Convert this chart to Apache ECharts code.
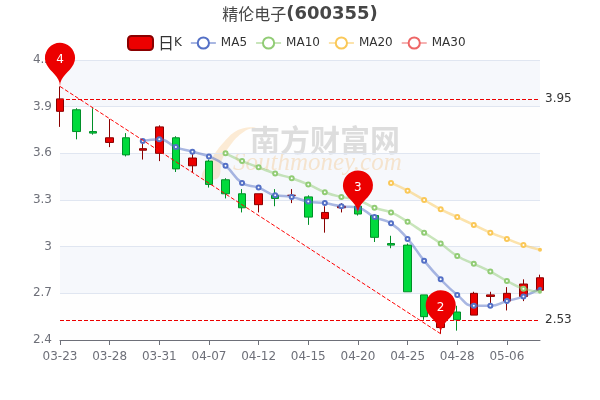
<!DOCTYPE html>
<html>
<head>
<meta charset="utf-8">
<style>html,body{margin:0;padding:0;background:#fff}#main{width:600px;height:400px}</style>
<script src="https://cdn.jsdelivr.net/npm/echarts@6/dist/echarts.min.js"></script>
</head>
<body>
<div id="main"></div>
<script>
const dates = ['03-23','03-24','03-25','03-28','03-29','03-30','03-31','04-01','04-06','04-07',
  '04-08','04-11','04-12','04-13','04-14','04-15','04-18','04-19','04-20','04-21',
  '04-22','04-25','04-26','04-27','04-28','04-29','05-05','05-06','05-09','05-10'];
// open, close, low, high
const kline = [
  [3.87,3.95,3.77,4.03],[3.88,3.74,3.69,3.89],[3.74,3.73,3.72,3.89],[3.67,3.70,3.64,3.82],
  [3.70,3.59,3.58,3.73],[3.62,3.63,3.56,3.69],[3.60,3.77,3.55,3.78],[3.70,3.50,3.48,3.71],
  [3.52,3.57,3.48,3.60],[3.55,3.40,3.38,3.56],[3.43,3.34,3.31,3.44],[3.34,3.25,3.22,3.37],
  [3.27,3.34,3.22,3.34],[3.33,3.31,3.26,3.37],[3.33,3.33,3.28,3.37],[3.32,3.19,3.14,3.33],
  [3.18,3.22,3.09,3.26],[3.25,3.26,3.22,3.28],[3.26,3.21,3.20,3.27],[3.20,3.06,3.03,3.21],
  [3.02,3.01,2.99,3.07],[3.01,2.71,2.71,3.02],[2.69,2.55,2.53,2.69],[2.48,2.60,2.44,2.62],
  [2.58,2.53,2.46,2.62],[2.56,2.70,2.56,2.71],[2.68,2.69,2.61,2.71],[2.65,2.70,2.59,2.74],
  [2.68,2.76,2.65,2.79],[2.72,2.80,2.71,2.82]
];
const ma5 = ['-','-','-','-','-',3.68,3.69,3.64,3.61,3.58,3.52,3.41,3.38,3.33,3.32,3.29,3.28,3.26,3.25,3.19,3.15,3.05,2.91,2.79,2.69,2.62,2.62,2.65,2.68,2.73];
const ma10 = ['-','-','-','-','-','-','-','-','-','-',3.60,3.55,3.51,3.47,3.44,3.40,3.35,3.32,3.30,3.25,3.22,3.16,3.09,3.02,2.94,2.89,2.84,2.78,2.73,2.71];
const ma20 = ['-','-','-','-','-','-','-','-','-','-','-','-','-','-','-','-','-','-','-','-',3.41,3.36,3.30,3.24,3.19,3.14,3.09,3.05,3.01,2.98];
const ma30 = dates.map(() => '-');
const yTop = 3.95, yBottom = 2.53;

const upColor = '#ec0000', upBorder = '#8A0000', downColor = '#00da3c', downBorder = '#008F28';
const labelColor = '#6E7079';

function maSeries(name, data, color) {
  return {name: name, type: 'line', data: data, smooth: true, color: color,
    // the last point sits on the grid edge and looks smaller
    symbolSize: function (v, p) { return p.dataIndex === dates.length - 1 ? 2 : 4; },
    lineStyle: {opacity: 0.5, width: 2.5}, itemStyle: {borderWidth: 2}};
}

let myChart = echarts.init(document.getElementById('main'));
let option = {
  animation: false,
  textStyle: {fontFamily: 'DejaVu Sans'},
  title: {
    left: 'center',
    top: 0,
    text: '{a|精伦电子}{b|(600355)}',
    textStyle: {
      rich: {
        a: {fontSize: 16, color: '#464646', fontFamily: 'Noto Sans CJK SC', fontWeight: 'normal'},
        b: {fontSize: 18, color: '#464646', fontWeight: 'bold', fontFamily: 'DejaVu Sans'}
      }
    }
  },
  legend: {
    top: 30,
    left: 122,
    formatter: function (name) {
      return name === '日K' ? '{big|日}K' : name;
    },
    textStyle: {fontFamily: 'DejaVu Sans', color: '#333', rich: {big: {fontSize: 16, color: '#333', fontFamily: 'Noto Sans CJK SC'}}},
    data: ['日K','MA5','MA10','MA20','MA30']
  },
  grid: {left: 60, right: 60, top: 60, bottom: 60},
  graphic: [
    {type: 'polygon', silent: true, z: 0, shape: {smooth: 0.4, points: [[256,127],[238,130],[224,142],[212,158],[202,177],[218,178],[222,160],[232,143],[245,131]]},
      style: {fill: 'rgba(250,190,110,0.35)'}},
    {type: 'text', silent: true, z: 0, left: 250, top: 125, style: {text: '南方财富网', font: 'bold 30px "Noto Sans CJK SC"', fill: 'rgba(120,120,120,0.3)'}},
    {type: 'text', silent: true, z: 0, left: 233, top: 151, style: {text: 'Southmoney.com', font: 'italic 25px "Liberation Serif"', fill: 'rgba(250,190,110,0.4)'}}
  ],
  xAxis: {
    type: 'category',
    data: dates,
    boundaryGap: false,
    axisLabel: {interval: 2, fontFamily: 'DejaVu Sans', color: labelColor, margin: 11},
    axisTick: {interval: 2},
    axisLine: {lineStyle: {color: labelColor}}
  },
  yAxis: {
    type: 'value',
    min: 2.4,
    max: 4.2,
    interval: 0.3,
    axisLabel: {fontFamily: 'DejaVu Sans', color: labelColor},
    splitLine: {lineStyle: {color: '#E0E6F1'}},
    splitArea: {show: true, areaStyle: {color: ['rgba(250,250,250,0.2)', 'rgba(210,219,238,0.2)']}}
  },
  series: [
    {
      name: '日K',
      type: 'candlestick',
      data: kline,
      barWidth: 8,
      clip: false,
      itemStyle: {color: upColor, color0: downColor, borderColor: upBorder, borderColor0: downBorder},
      markPoint: {
        label: {color: '#fff', fontFamily: 'DejaVu Sans'},
        data: [
          {coord: [0, 4.03], value: 4},
          {coord: [18, 3.21], value: 3},
          {coord: [23, 2.44], value: 2}
        ]
      },
      markLine: {
        symbol: 'none',
        data: [
          {yAxis: yTop, lineStyle: {color: upColor, type: 'dashed', width: 1}, label: {formatter: String(yTop), color: '#333', fontFamily: 'DejaVu Sans'}},
          {yAxis: yBottom, lineStyle: {color: upColor, type: 'dashed', width: 1}, label: {formatter: String(yBottom), color: '#333', fontFamily: 'DejaVu Sans'}},
          [
            {coord: [0, 4.03], lineStyle: {color: '#ff0000', type: 'dashed', width: 1}, label: {show: false}},
            {coord: [23, 2.44]}
          ]
        ]
      }
    },
    maSeries('MA5', ma5, '#5470c6'),
    maSeries('MA10', ma10, '#91cc75'),
    maSeries('MA20', ma20, '#fac858'),
    maSeries('MA30', ma30, '#ee6666')
  ]
};
myChart.setOption(option);
</script>
</body>
</html>
